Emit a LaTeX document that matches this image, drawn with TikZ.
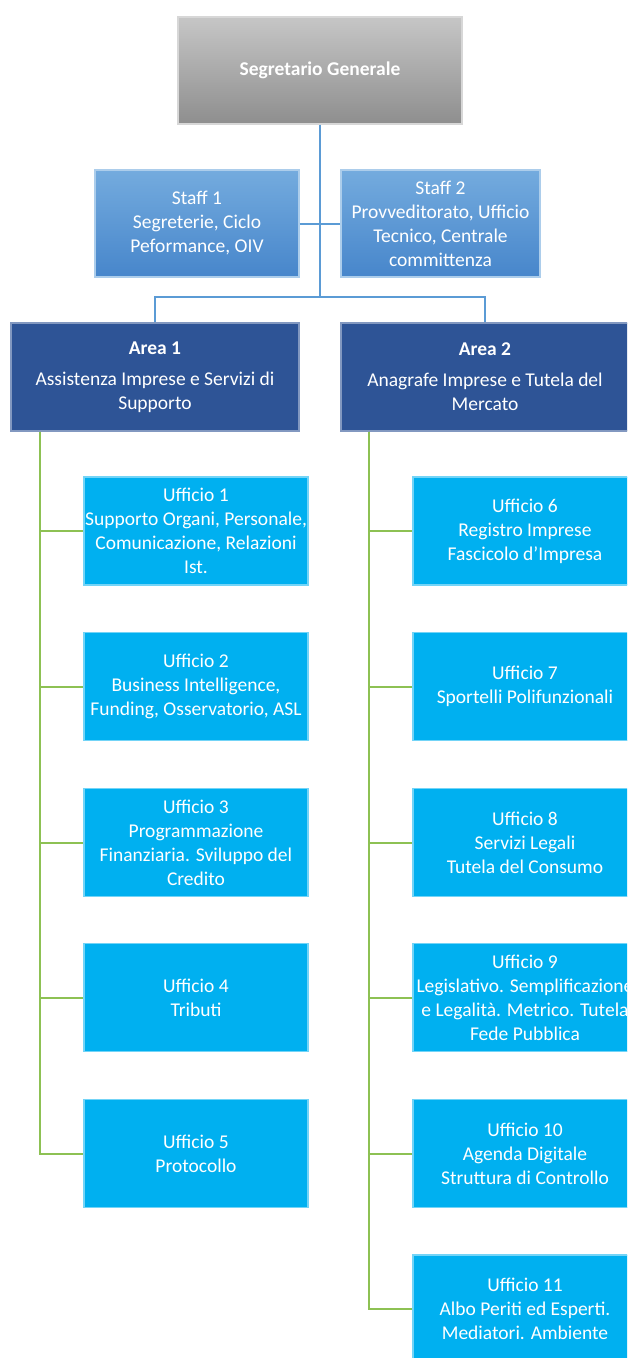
\documentclass[tikz,border=0pt]{standalone}
\usepackage{fontspec}
\setmainfont{Carlito}
\usetikzlibrary{positioning}

\definecolor{segTop}{HTML}{C6C6C6}
\definecolor{segBot}{HTML}{8E8E8E}
\definecolor{staffTop}{HTML}{74ABDE}
\definecolor{staffBot}{HTML}{4786CB}
\definecolor{areaBlue}{HTML}{2E5496}
\definecolor{officeBlue}{HTML}{00B0F0}
\definecolor{blueLine}{HTML}{5B9BD5}
\definecolor{greenLine}{HTML}{8DC153}

\begin{document}
\begin{tikzpicture}[x=1pt, y=-1pt, font=\fontsize{19.5}{24}\selectfont,
  segbox/.style={rectangle, top color=segTop, bottom color=segBot, draw=segTop!70!white, line width=1.2pt, text=white, minimum width=284pt, minimum height=107pt, align=center, font=\fontsize{19.5}{24}\selectfont\bfseries},
  staffbox/.style={rectangle, top color=staffTop, bottom color=staffBot, draw=staffTop!60!white, line width=1.2pt, text=white, minimum height=107pt, inner xsep=1pt, align=center},
  areabox/.style={rectangle, fill=areaBlue, draw=areaBlue!60!white, line width=1.2pt, text=white, minimum width=288pt, minimum height=108pt, inner xsep=1pt, align=center},
  officebox/.style={rectangle, fill=officeBlue, draw=officeBlue!55!white, line width=1.2pt, text=white, minimum width=224pt, minimum height=108pt, inner xsep=0pt, align=center},
  bluelink/.style={draw=blueLine, line width=2pt},
  greenlink/.style={draw=greenLine, line width=2pt}]

\useasboundingbox (0,0) rectangle (627,1358);
\clip (0,0) rectangle (627,1358);

% TOP
\node[segbox] (seg) at (320,70.5) {Segretario Generale};

% STAFF
\node[staffbox, minimum width=204pt] (staff1) at (197,223.5) {Staff 1\\Segreterie, Ciclo\\Peformance, OIV};
\node[staffbox, minimum width=199pt] (staff2) at (440.5,223.5) {Staff 2\\Provveditorato, Ufficio\\Tecnico, Centrale\\committenza};

% AREAS
\node[areabox] (area1) at (155,377) {\textbf{Area 1}\\[7pt]Assistenza Imprese e Servizi di\\Supporto};
\node[areabox] (area2) at (485,377) {\textbf{Area 2}\\[7pt]Anagrafe Imprese e Tutela del\\Mercato};

% OFFICES AREA 1
\node[officebox] (uff1) at (196,531) {Ufficio 1\\Supporto Organi, Personale,\\Comunicazione, Relazioni\\Ist.};
\node[officebox] (uff2) at (196,686.5) {Ufficio 2\\Business Intelligence,\\Funding, Osservatorio, ASL};
\node[officebox] (uff3) at (196,842.5) {Ufficio 3\\Programmazione\\Finanziaria. Sviluppo del\\Credito};
\node[officebox] (uff4) at (196,997.5) {Ufficio 4\\Tributi};
\node[officebox] (uff5) at (196,1153.5) {Ufficio 5\\Protocollo};

% OFFICES AREA 2
\node[officebox] (uff6) at (525,531) {Ufficio 6\\Registro Imprese\\Fascicolo d'Impresa};
\node[officebox] (uff7) at (525,686.5) {Ufficio 7\\Sportelli Polifunzionali};
\node[officebox] (uff8) at (525,842.5) {Ufficio 8\\Servizi Legali\\Tutela del Consumo};
\node[officebox] (uff9) at (525,997.5) {Ufficio 9\\Legislativo. Semplificazione\\e Legalità. Metrico. Tutela\\Fede Pubblica};
\node[officebox] (uff10) at (525,1153.5) {Ufficio 10\\Agenda Digitale\\Struttura di Controllo};
\node[officebox] (uff11) at (525,1309) {Ufficio 11\\Albo Periti ed Esperti.\\Mediatori. Ambiente};

% JUNCTIONS
\coordinate (hub) at (320,297);
\coordinate (spineL) at ([xshift=30pt]area1.south west);
\coordinate (spineR) at ([xshift=29pt]area2.south west);

% LINKS
\path[bluelink] (seg) -- (hub);
\path[bluelink] (staff1.east) -- (staff2.west);
\path[bluelink] (area1.north) |- (hub) -| (area2.north);
\foreach \i in {1,...,5}
  \path[greenlink] (spineL) |- (uff\i.west);
\foreach \i in {6,...,11}
  \path[greenlink] (spineR) |- (uff\i.west);

\end{tikzpicture}
\end{document}
